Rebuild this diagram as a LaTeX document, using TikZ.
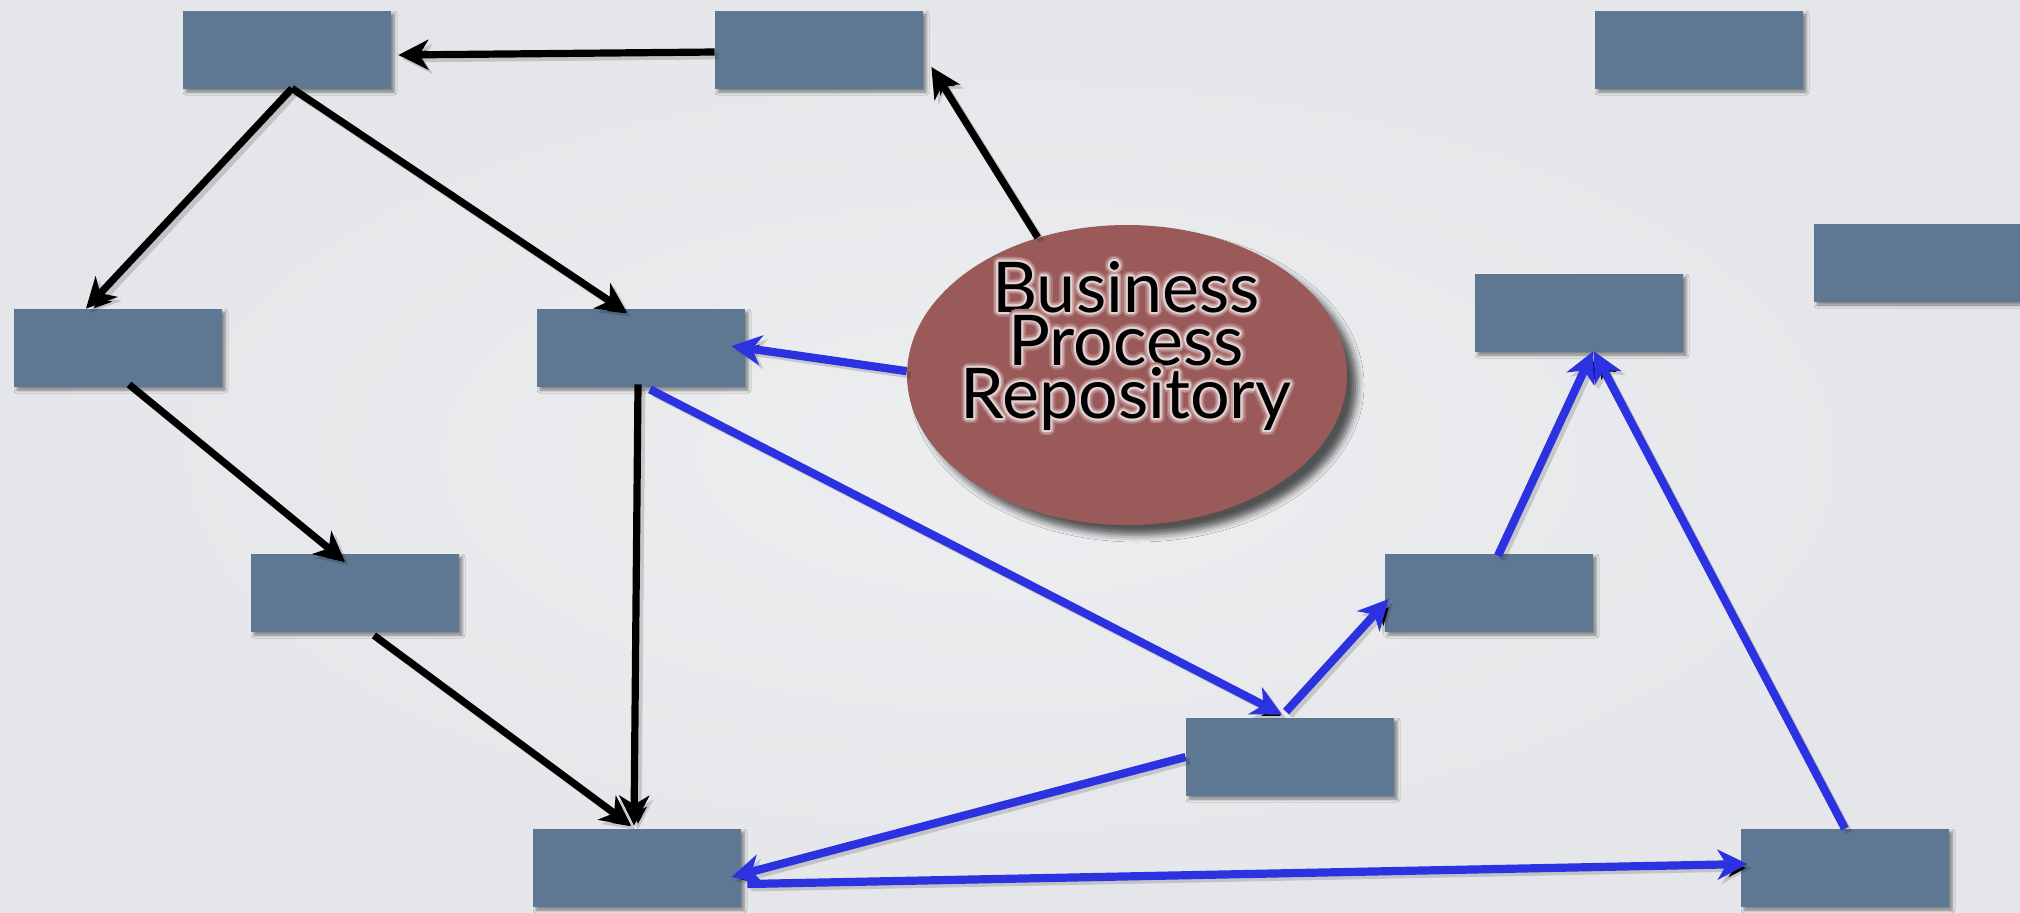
\documentclass[tikz,border=0pt]{standalone}
\usepackage{fontspec}
\setmainfont{Lato}
\usetikzlibrary{arrows.meta,calc,shadows.blur,shapes.geometric}

\definecolor{bgin}{HTML}{EDEEF0}
\definecolor{bgout}{HTML}{E4E6E9}
\definecolor{boxblue}{HTML}{5E7894}
\definecolor{repo}{HTML}{9B5A5A}
\definecolor{linkblue}{HTML}{2D32E1}
\definecolor{haloA}{HTML}{AD7878}
\definecolor{haloB}{HTML}{C49C9C}
\definecolor{haloC}{HTML}{E4D2D2}

% one ring of offset copies of #3 at radius #1 in colour #2
\newcommand\haloring[3]{%
  \foreach \hang in {0,30,...,330}{%
    \pgfmathsetlengthmacro\hx{#1*cos(\hang)}%
    \pgfmathsetlengthmacro\hy{#1*sin(\hang)}%
    \rlap{\smash{\kern\hx\raisebox{\hy}{\color{#2}#3}}}}}
% text with a soft light glow around the letters
\newcommand\halo[1]{\leavevmode
  \haloring{2.6pt}{haloA}{#1}%
  \haloring{1.7pt}{haloB}{#1}%
  \haloring{0.9pt}{haloC}{#1}%
  #1}

\begin{document}
\begin{tikzpicture}[x=0.5pt,y=-0.5pt,
  box/.style={rectangle, fill=boxblue, minimum width=104pt, minimum height=39pt,
    inner sep=0pt,
    blur shadow={shadow xshift=1.5pt, shadow yshift=-1.5pt,
      shadow blur radius=1.5pt, shadow opacity=45}},
  link/.style={line width=3.6pt,
    -{Stealth[length=15pt,width=15pt,inset=4.5pt]},
    preaction={draw=black, draw opacity=0.15, line width=3.4pt,
      transform canvas={xshift=2pt,yshift=-2pt}}},
  blk/.style={link, draw=black},
  blu/.style={link, draw=linkblue, line width=4.1pt},
  words/.style={align=center, inner sep=0pt, text=black,
    font=\fontsize{35pt}{24pt}\selectfont},
]
% background
\shade[inner color=bgin, outer color=bgout] (0,0) rectangle (2020,912);
\useasboundingbox (0,0) rectangle (2020,912);

% process steps
\node[box] (A) at (287,50) {};
\node[box] (B) at (819,50) {};
\node[box] (C) at (1699,50) {};
\node[box] (D) at (1918,263) {};
\node[box] (E) at (118,348) {};
\node[box] (F) at (641,348) {};
\node[box] (G) at (1579,313) {};
\node[box] (H) at (355,593) {};
\node[box] (I) at (1489,593) {};
\node[box] (J) at (1290,757) {};
\node[box] (K) at (637,868) {};
\node[box] (L) at (1845,868) {};

% repository
\node[ellipse, fill=repo, minimum width=220pt, minimum height=150pt, inner sep=0pt,
  blur shadow={shadow xshift=5pt, shadow yshift=-5pt, shadow blur radius=3.5pt,
    shadow opacity=65}] (R) at (1127,375) {};

% black flow
\draw[blk] ($(B.west)+(0,2)$) -- ($(A.east)+(7,5)$);
\draw[blk] ($(A.south)+(5,-1)$) -- ($(E.north)+(-32,0)$);
\draw[blk] ($(A.south)+(5,-1)$) -- ($(F.north)+(-14,4)$);
\draw[blk] ($(E.south)+(11,-3)$) -- ($(H.north)+(-10,8)$);
\draw[blk] ($(H.south)+(19,3)$) -- ($(K.north)+(-6,-3)$);
\draw[blk] ($(F.south)+(-3,-3)$) -- ($(K.north)+(-3,-3)$);
\draw[blk] (R.123) -- ($(B.east)+(8,17)$);

% blue flow
\draw[blu] (R.179) -- ($(F.east)+(-14,-2)$);
\draw[blu] ($(F.south)+(9,2)$) -- ($(J.north)+(-8,-3)$);
\draw[blu] ($(J.north)+(-4,-6)$) -- ($(I.west)+(4,6)$);
\draw[blu] ($(I.north)+(9,2)$) -- ($(G.south)+(14,-1)$);
\draw[blu] (L.north) -- ($(G.south)+(15,-1)$);
\draw[blu] (J.west) -- ($(K.east)+(-10,9)$);
\draw[blu] ($(K.east)+(6,16)$) -- ($(L.west)+(7,-4)$);

% repository label
\node[words] (label) at (1126,346) {\halo{Business}\\\halo{Process}\\\halo{Repository}};
\end{tikzpicture}
\end{document}
